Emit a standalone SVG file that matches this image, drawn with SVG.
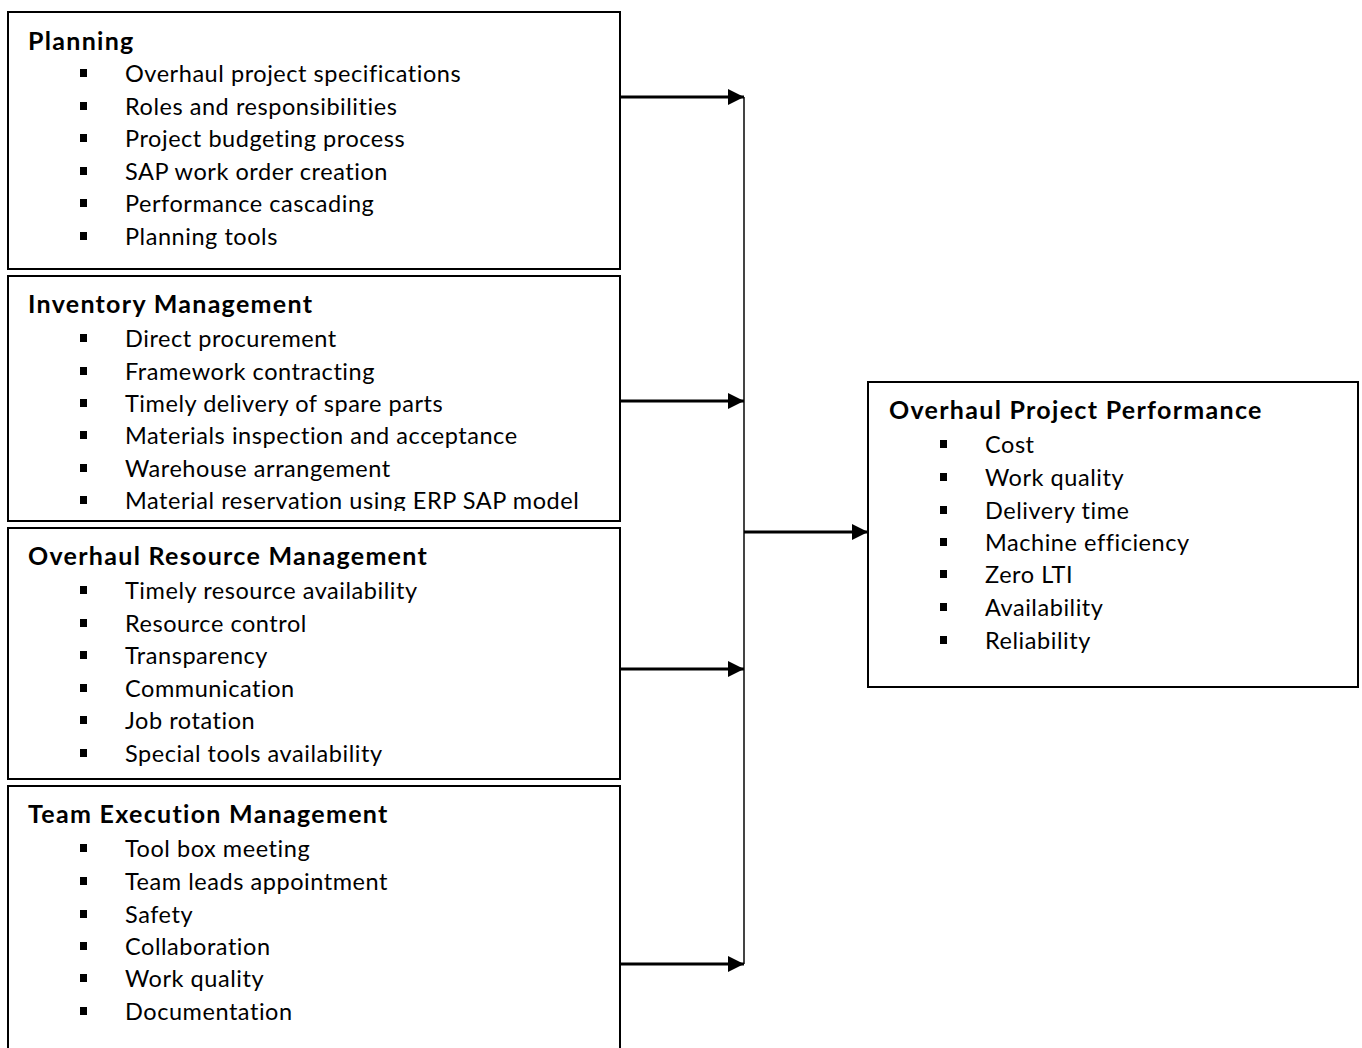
<svg xmlns="http://www.w3.org/2000/svg" xmlns:xlink="http://www.w3.org/1999/xlink" width="1362" height="1048" viewBox="0 0 1362 1048">
<style>
.box{fill:#fff;stroke:#000;stroke-width:2}
.h{font-family:Lato,"Liberation Sans",sans-serif;font-weight:bold;font-size:25px;letter-spacing:1.3px;fill:#000}
.t{font-family:Lato,"Liberation Sans",sans-serif;font-size:23.5px;letter-spacing:0.55px;fill:#000}
.ln{stroke:#000;stroke-width:3;fill:none}
.vl{stroke:#444;stroke-width:2;fill:none}
</style>
<defs>
<marker id="ah" viewBox="0 0 10 10" refX="10" refY="5" markerWidth="16" markerHeight="16" markerUnits="userSpaceOnUse" orient="auto"><path d="M0,0 L10,5 L0,10 z" fill="#000"/></marker>
<rect id="b" width="7" height="8" fill="#000"/>
<clipPath id="c2"><rect x="8" y="276" width="612" height="235"/></clipPath>
</defs>
<g id="planning">
<rect class="box" x="8" y="12" width="612" height="257"/>
<text class="h" x="28" y="50">Planning</text>
<use xlink:href="#b" x="80" y="69"/><text class="t" x="125" y="82">Overhaul project specifications</text>
<use xlink:href="#b" x="80" y="102"/><text class="t" x="125" y="115">Roles and responsibilities</text>
<use xlink:href="#b" x="80" y="134"/><text class="t" x="125" y="147">Project budgeting process</text>
<use xlink:href="#b" x="80" y="167"/><text class="t" x="125" y="180">SAP work order creation</text>
<use xlink:href="#b" x="80" y="199"/><text class="t" x="125" y="212">Performance cascading</text>
<use xlink:href="#b" x="80" y="232"/><text class="t" x="125" y="245">Planning tools</text>
</g>
<g id="inventory">
<rect class="box" x="8" y="276" width="612" height="245"/>
<g clip-path="url(#c2)">
<text class="h" x="28" y="313">Inventory Management</text>
<use xlink:href="#b" x="80" y="334"/><text class="t" x="125" y="347">Direct procurement</text>
<use xlink:href="#b" x="80" y="367"/><text class="t" x="125" y="380">Framework contracting</text>
<use xlink:href="#b" x="80" y="399"/><text class="t" x="125" y="412">Timely delivery of spare parts</text>
<use xlink:href="#b" x="80" y="431"/><text class="t" x="125" y="444">Materials inspection and acceptance</text>
<use xlink:href="#b" x="80" y="464"/><text class="t" x="125" y="477">Warehouse arrangement</text>
<use xlink:href="#b" x="80" y="496"/><text class="t" x="125" y="509">Material reservation using ERP SAP model</text>
</g>
</g>
<g id="resource">
<rect class="box" x="8" y="528" width="612" height="251"/>
<text class="h" x="28" y="565">Overhaul Resource Management</text>
<use xlink:href="#b" x="80" y="586"/><text class="t" x="125" y="599">Timely resource availability</text>
<use xlink:href="#b" x="80" y="619"/><text class="t" x="125" y="632">Resource control</text>
<use xlink:href="#b" x="80" y="651"/><text class="t" x="125" y="664">Transparency</text>
<use xlink:href="#b" x="80" y="684"/><text class="t" x="125" y="697">Communication</text>
<use xlink:href="#b" x="80" y="716"/><text class="t" x="125" y="729">Job rotation</text>
<use xlink:href="#b" x="80" y="749"/><text class="t" x="125" y="762">Special tools availability</text>
</g>
<g id="team">
<rect class="box" x="8" y="786" width="612" height="270"/>
<text class="h" x="28" y="823">Team Execution Management</text>
<use xlink:href="#b" x="80" y="844"/><text class="t" x="125" y="857">Tool box meeting</text>
<use xlink:href="#b" x="80" y="877"/><text class="t" x="125" y="890">Team leads appointment</text>
<use xlink:href="#b" x="80" y="910"/><text class="t" x="125" y="923">Safety</text>
<use xlink:href="#b" x="80" y="942"/><text class="t" x="125" y="955">Collaboration</text>
<use xlink:href="#b" x="80" y="974"/><text class="t" x="125" y="987">Work quality</text>
<use xlink:href="#b" x="80" y="1007"/><text class="t" x="125" y="1020">Documentation</text>
</g>
<g id="performance">
<rect class="box" x="868" y="382" width="490" height="305"/>
<text class="h" x="889" y="419">Overhaul Project Performance</text>
<use xlink:href="#b" x="940" y="440"/><text class="t" x="985" y="453">Cost</text>
<use xlink:href="#b" x="940" y="473"/><text class="t" x="985" y="486">Work quality</text>
<use xlink:href="#b" x="940" y="506"/><text class="t" x="985" y="519">Delivery time</text>
<use xlink:href="#b" x="940" y="538"/><text class="t" x="985" y="551">Machine efficiency</text>
<use xlink:href="#b" x="940" y="570"/><text class="t" x="985" y="583">Zero LTI</text>
<use xlink:href="#b" x="940" y="603"/><text class="t" x="985" y="616">Availability</text>
<use xlink:href="#b" x="940" y="636"/><text class="t" x="985" y="649">Reliability</text>
</g>
<g id="connectors">
<line class="vl" x1="744" y1="97" x2="744" y2="964"/>
<line class="ln" x1="620" y1="97" x2="744" y2="97" marker-end="url(#ah)"/>
<line class="ln" x1="620" y1="401" x2="744" y2="401" marker-end="url(#ah)"/>
<line class="ln" x1="620" y1="669" x2="744" y2="669" marker-end="url(#ah)"/>
<line class="ln" x1="620" y1="964" x2="744" y2="964" marker-end="url(#ah)"/>
<line class="ln" x1="744" y1="532" x2="868" y2="532" marker-end="url(#ah)"/>
</g>
</svg>
